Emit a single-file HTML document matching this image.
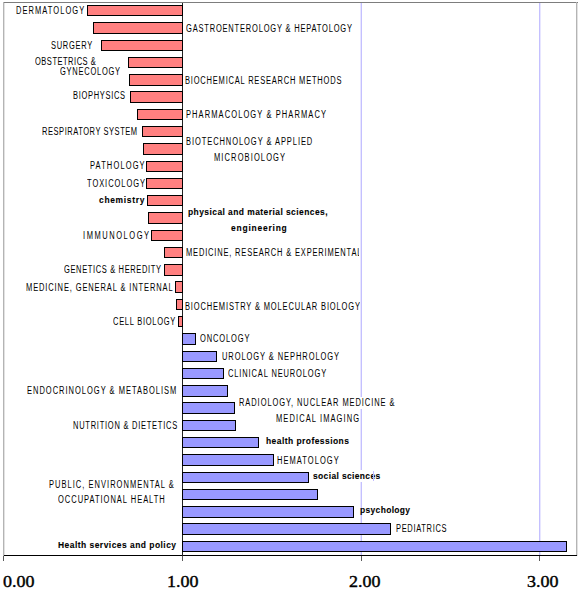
<!DOCTYPE html>
<html><head><meta charset="utf-8"><style>
html,body{margin:0;padding:0;background:#fff;}
body{width:580px;height:594px;position:relative;overflow:hidden;}
.a{position:absolute;}
.b{position:absolute;box-sizing:border-box;border:1px solid #000;}
.n{background:#ff8080;}
.p{background:#9999ff;}
.t{position:absolute;font-family:"Liberation Sans",sans-serif;font-size:10px;line-height:12px;white-space:pre;color:#000;transform-origin:0 0;}
.tb{font-weight:bold;font-size:9.2px;-webkit-text-stroke:0.1px #000;}
.x{position:absolute;font-family:"Liberation Serif",serif;font-weight:normal;-webkit-text-stroke:0.4px #000;font-size:16.5px;line-height:20px;white-space:pre;color:#000;transform:scaleX(1.09);transform-origin:0 0;}
</style></head><body>

<div class="a" style="left:3px;top:2px;width:575px;height:1px;background:#7d7d7d"></div>
<div class="a" style="left:3px;top:2px;width:1px;height:559px;background:#b4b4b4"></div>
<div class="a" style="left:4px;top:3px;width:1px;height:552px;background:#e2e2e2"></div>
<div class="a" style="left:576px;top:2px;width:1px;height:554px;background:#b4b4b4"></div>
<div class="a" style="left:577px;top:3px;width:1px;height:553px;background:#e2e2e2"></div>
<div class="a" style="left:360px;top:3px;width:1px;height:552px;background:#e8e6ff"></div>
<div class="a" style="left:540px;top:3px;width:1px;height:552px;background:#e8e6ff"></div>
<div class="a" style="left:361px;top:3px;width:1px;height:552px;background:#c4c0ff"></div>
<div class="a" style="left:539px;top:3px;width:1px;height:552px;background:#c4c0ff"></div>
<div class="a" style="left:3px;top:556px;width:1px;height:5px;background:#5a5a5a"></div>
<div class="a" style="left:182px;top:556px;width:1px;height:5px;background:#5a5a5a"></div>
<div class="a" style="left:361px;top:556px;width:1px;height:5px;background:#5a5a5a"></div>
<div class="a" style="left:539px;top:556px;width:1px;height:5px;background:#5a5a5a"></div>
<div class="a" style="left:4px;top:555px;width:573px;height:1px;background:#000"></div>
<div class="a" style="left:182px;top:3px;width:1px;height:553px;background:#222"></div>
<div class="b n" style="left:87px;top:5px;width:96px;height:11px"></div>
<div class="b n" style="left:93px;top:22px;width:90px;height:12px"></div>
<div class="b n" style="left:101px;top:40px;width:82px;height:11px"></div>
<div class="b n" style="left:128px;top:57px;width:55px;height:11px"></div>
<div class="b n" style="left:129px;top:74px;width:54px;height:12px"></div>
<div class="b n" style="left:130px;top:91px;width:53px;height:12px"></div>
<div class="b n" style="left:137px;top:109px;width:46px;height:11px"></div>
<div class="b n" style="left:142px;top:126px;width:41px;height:11px"></div>
<div class="b n" style="left:143px;top:143px;width:40px;height:12px"></div>
<div class="b n" style="left:146px;top:161px;width:37px;height:11px"></div>
<div class="b n" style="left:146px;top:178px;width:37px;height:11px"></div>
<div class="b n" style="left:147px;top:195px;width:36px;height:11px"></div>
<div class="b n" style="left:148px;top:212px;width:35px;height:12px"></div>
<div class="b n" style="left:151px;top:230px;width:32px;height:11px"></div>
<div class="b n" style="left:164px;top:247px;width:19px;height:11px"></div>
<div class="b n" style="left:164px;top:264px;width:19px;height:12px"></div>
<div class="b n" style="left:175px;top:281px;width:8px;height:12px"></div>
<div class="b n" style="left:176px;top:299px;width:7px;height:11px"></div>
<div class="b n" style="left:178px;top:316px;width:5px;height:11px"></div>
<div class="b p" style="left:182px;top:333px;width:14px;height:12px"></div>
<div class="b p" style="left:182px;top:351px;width:35px;height:11px"></div>
<div class="b p" style="left:182px;top:368px;width:42px;height:11px"></div>
<div class="b p" style="left:182px;top:385px;width:46px;height:12px"></div>
<div class="b p" style="left:182px;top:402px;width:53px;height:12px"></div>
<div class="b p" style="left:182px;top:420px;width:54px;height:11px"></div>
<div class="b p" style="left:182px;top:437px;width:77px;height:11px"></div>
<div class="b p" style="left:182px;top:454px;width:92px;height:12px"></div>
<div class="b p" style="left:182px;top:472px;width:127px;height:11px"></div>
<div class="b p" style="left:182px;top:489px;width:136px;height:11px"></div>
<div class="b p" style="left:182px;top:506px;width:172px;height:12px"></div>
<div class="b p" style="left:182px;top:523px;width:209px;height:12px"></div>
<div class="b p" style="left:182px;top:541px;width:385px;height:11px"></div>
<div class="t" style="left:15.50px;top:5.08px;transform:scaleX(0.7500);letter-spacing:1.407px">DERMATOLOGY</div>
<div class="t" style="left:51.40px;top:39.97px;transform:scaleX(0.7500);letter-spacing:0.944px">SURGERY</div>
<div class="t" style="left:34.90px;top:56.18px;transform:scaleX(0.7500);letter-spacing:0.691px">OBSTETRICS &amp;</div>
<div class="t" style="left:59.70px;top:66.08px;transform:scaleX(0.7500);letter-spacing:1.000px">GYNECOLOGY</div>
<div class="t" style="left:73.00px;top:90.12px;transform:scaleX(0.7500);letter-spacing:0.926px">BIOPHYSICS</div>
<div class="t" style="left:41.50px;top:126.17px;transform:scaleX(0.7500);letter-spacing:0.737px">RESPIRATORY SYSTEM</div>
<div class="t" style="left:90.20px;top:160.23px;transform:scaleX(0.7500);letter-spacing:1.508px">PATHOLOGY</div>
<div class="t" style="left:87.00px;top:177.62px;transform:scaleX(0.7500);letter-spacing:1.259px">TOXICOLOGY</div>
<div class="t tb" style="left:99.10px;top:193.56px;transform:scaleX(0.9200);letter-spacing:0.736px">chemistry</div>
<div class="t" style="left:83.40px;top:230.23px;transform:scaleX(0.7500);letter-spacing:2.067px">IMMUNOLOGY</div>
<div class="t" style="left:63.60px;top:263.98px;transform:scaleX(0.7500);letter-spacing:0.859px">GENETICS &amp; HEREDITY</div>
<div class="t" style="left:25.50px;top:281.98px;transform:scaleX(0.7500);letter-spacing:1.183px">MEDICINE, GENERAL &amp; INTERNAL</div>
<div class="t" style="left:112.70px;top:316.12px;transform:scaleX(0.7500);letter-spacing:0.970px">CELL BIOLOGY</div>
<div class="t" style="left:26.50px;top:385.03px;transform:scaleX(0.7500);letter-spacing:1.333px">ENDOCRINOLOGY &amp; METABOLISM</div>
<div class="t" style="left:72.70px;top:419.53px;transform:scaleX(0.7500);letter-spacing:1.003px">NUTRITION &amp; DIETETICS</div>
<div class="t" style="left:48.50px;top:478.58px;transform:scaleX(0.7500);letter-spacing:1.376px">PUBLIC, ENVIRONMENTAL &amp;</div>
<div class="t" style="left:58.00px;top:494.12px;transform:scaleX(0.7500);letter-spacing:1.319px">OCCUPATIONAL HEALTH</div>
<div class="t tb" style="left:58.40px;top:538.56px;transform:scaleX(0.9200);letter-spacing:0.517px">Health services and policy</div>
<div class="t" style="left:185.60px;top:23.37px;transform:scaleX(0.7500);letter-spacing:1.083px">GASTROENTEROLOGY &amp; HEPATOLOGY</div>
<div class="t" style="left:184.70px;top:75.22px;transform:scaleX(0.7500);letter-spacing:1.072px">BIOCHEMICAL RESEARCH METHODS</div>
<div class="t" style="left:186.20px;top:109.02px;transform:scaleX(0.7500);letter-spacing:1.467px">PHARMACOLOGY &amp; PHARMACY</div>
<div class="t" style="left:186.20px;top:136.03px;transform:scaleX(0.7500);letter-spacing:1.245px">BIOTECHNOLOGY &amp; APPLIED</div>
<div class="t" style="left:214.10px;top:152.28px;transform:scaleX(0.7500);letter-spacing:1.491px">MICROBIOLOGY</div>
<div class="t tb" style="left:188.20px;top:205.86px;transform:scaleX(0.9200);letter-spacing:0.477px">physical and material sciences,</div>
<div class="t tb" style="left:231.40px;top:221.56px;transform:scaleX(0.9200);letter-spacing:0.854px">engineering</div>
<div class="a" style="left:0;top:0;width:359px;height:594px;overflow:hidden"><div class="t" style="left:185.90px;top:247.27px;transform:scaleX(0.7500);letter-spacing:1.098px">MEDICINE, RESEARCH &amp; EXPERIMENTAL</div></div>
<div class="a" style="left:0;top:0;width:360px;height:594px;overflow:hidden"><div class="t" style="left:184.90px;top:300.52px;transform:scaleX(0.7500);letter-spacing:1.135px">BIOCHEMISTRY &amp; MOLECULAR BIOLOGY</div></div>
<div class="t" style="left:199.90px;top:333.23px;transform:scaleX(0.7500);letter-spacing:1.181px">ONCOLOGY</div>
<div class="t" style="left:221.70px;top:351.08px;transform:scaleX(0.7500);letter-spacing:1.232px">UROLOGY &amp; NEPHROLOGY</div>
<div class="t" style="left:227.90px;top:368.12px;transform:scaleX(0.7500);letter-spacing:1.157px">CLINICAL NEUROLOGY</div>
<div class="t" style="left:239.30px;top:397.28px;transform:scaleX(0.7500);letter-spacing:1.240px;background:#fff">RADIOLOGY, NUCLEAR MEDICINE &amp;</div>
<div class="t" style="left:275.90px;top:412.98px;transform:scaleX(0.7500);letter-spacing:1.467px">MEDICAL IMAGING</div>
<div class="t tb" style="left:265.70px;top:435.36px;transform:scaleX(0.9200);letter-spacing:0.496px">health professions</div>
<div class="t" style="left:276.60px;top:454.58px;transform:scaleX(0.7500);letter-spacing:1.407px">HEMATOLOGY</div>
<div class="t tb" style="left:313.30px;top:469.66px;transform:scaleX(0.9200);letter-spacing:0.401px;background:#fff">social sciences</div>
<div class="t tb" style="left:359.60px;top:503.86px;transform:scaleX(0.9200);letter-spacing:0.372px">psychology</div>
<div class="t" style="left:395.60px;top:522.88px;transform:scaleX(0.7500);letter-spacing:0.896px">PEDIATRICS</div>
<div class="a" style="left:373px;top:471px;width:1px;height:10px;background:#c2bcff"></div>
<div class="x" style="left:2.51px;top:572px">0.00</div>
<div class="x" style="left:167.41px;top:572px">1.00</div>
<div class="x" style="left:348.61px;top:572px">2.00</div>
<div class="x" style="left:526.61px;top:572px">3.00</div>
</body></html>
